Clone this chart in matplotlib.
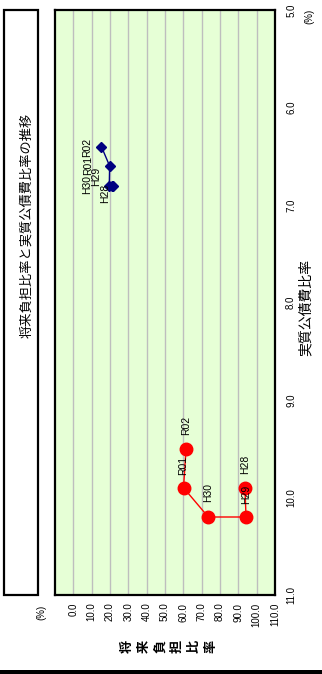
import matplotlib
matplotlib.use("Agg")
import matplotlib.pyplot as plt
from matplotlib.patches import Rectangle
from matplotlib.lines import Line2D

# --- data -------------------------------------------------------------
years = ["H28", "H29", "H30", "R01", "R02"]

# 将来負担比率 (%) / 実質公債費比率 (%)
city_future_burden = [93.6, 94.2, 73.6, 60.1, 61.5]
city_debt_service = [9.9, 10.2, 10.2, 9.9, 9.5]

peer_future_burden = [21.6, 20.9, 19.6, 19.8, 15.3]
peer_debt_service = [6.8, 6.8, 6.8, 6.6, 6.4]

burden_ticks = [0, 10, 20, 30, 40, 50, 60, 70, 80, 90, 100, 110]
debt_ticks = [5.0, 6.0, 7.0, 8.0, 9.0, 10.0, 11.0]

# label offsets in pixels (dx, dy)
city_label_offsets = [(0, 23), (0, 23), (0, 24), (0, 22), (0, 23)]
peer_label_offsets = [(-8, -8), (-16, 9), (-22, 1), (-22, 1), (-14, -1)]

W, H = 322, 674
LATIN = ["Liberation Sans Narrow", "Liberation Sans", "DejaVu Sans"]
CJK = ["Noto Sans CJK JP", "DejaVu Sans"]


def fx(x):
    return x / W


def fy(y):
    return 1 - y / H


fig = plt.figure(figsize=(W / 100, H / 100), dpi=100)
fig.patch.set_facecolor("white")

ax = fig.add_axes([fx(55), fy(595), fx(275) - fx(55), fy(10) - fy(595)])
ax.set_facecolor("#E6FFD6")
ax.set_xlim(-10, 110)
ax.set_ylim(11.0, 5.0)

ax.set_xticks(burden_ticks)
ax.set_xticklabels([f"{v:.1f}" for v in burden_ticks], rotation=90,
                   family=LATIN, fontsize=7)
ax.yaxis.tick_right()
ax.set_yticks(debt_ticks)
ax.set_yticklabels([f"{v:.1f}" for v in debt_ticks], rotation=90,
                   va="center", family=LATIN, fontsize=7)
ax.tick_params(axis="x", length=0, pad=5.5)
ax.tick_params(axis="y", length=0, pad=8)
ax.grid(axis="x", color="#BEBEBE", linewidth=1.0)
ax.set_axisbelow(True)
for s in ax.spines.values():
    s.set_linewidth(1.6)
    s.set_color("black")

ax.plot(city_future_burden, city_debt_service, color="#FF0000", lw=1.0,
        marker="o", markersize=9, markerfacecolor="#FF0000",
        markeredgecolor="#FF0000", zorder=3)
ax.plot(peer_future_burden, peer_debt_service, color="#000080", lw=1.0,
        marker="D", markersize=5.2, markerfacecolor="#000080",
        markeredgecolor="#000080", zorder=3)

for lab, xv, yv, off in zip(years, city_future_burden, city_debt_service,
                            city_label_offsets):
    ax.annotate(lab, (xv, yv), xytext=off, textcoords="offset pixels",
                rotation=90, ha="center", va="center", family=LATIN,
                fontsize=7.5, zorder=4)
for lab, xv, yv, off in zip(years, peer_future_burden, peer_debt_service,
                            peer_label_offsets):
    ax.annotate(lab, (xv, yv), xytext=off, textcoords="offset pixels",
                rotation=90, ha="center", va="center", family=LATIN,
                fontsize=7.5, zorder=4)

# title box
fig.patches.append(Rectangle((fx(4), fy(595)), fx(38) - fx(4), fy(10) - fy(595),
                             transform=fig.transFigure, facecolor="white",
                             edgecolor="black", linewidth=1.6))
fig.text(fx(27), fy(225), "将来負担比率と実質公債費比率の推移", rotation=90,
         ha="center", va="center", family=CJK, fontsize=9.5)

# axis titles and units
fig.text(fx(306), fy(307), "実質公債費比率", rotation=90, ha="center",
         va="center", family=CJK, fontsize=10)
fig.text(fx(309), fy(16), "(%)", rotation=90, ha="center", va="center",
         family=LATIN, fontsize=7)
fig.text(fx(41), fy(612), "(%)", rotation=90, ha="center", va="center",
         family=LATIN, fontsize=7)
for i, ch in enumerate("将来負担比率"):
    fig.text(fx(126.5 + 16.8 * i), fy(646), ch, rotation=90, ha="center",
             va="center", family=CJK, fontsize=9.5, fontweight="bold")

# bottom rule
fig.lines.append(Line2D([0, 1], [fy(671.5), fy(671.5)],
                        transform=fig.transFigure, color="black",
                        linewidth=3.6))

fig.savefig("out.png", dpi=100)
